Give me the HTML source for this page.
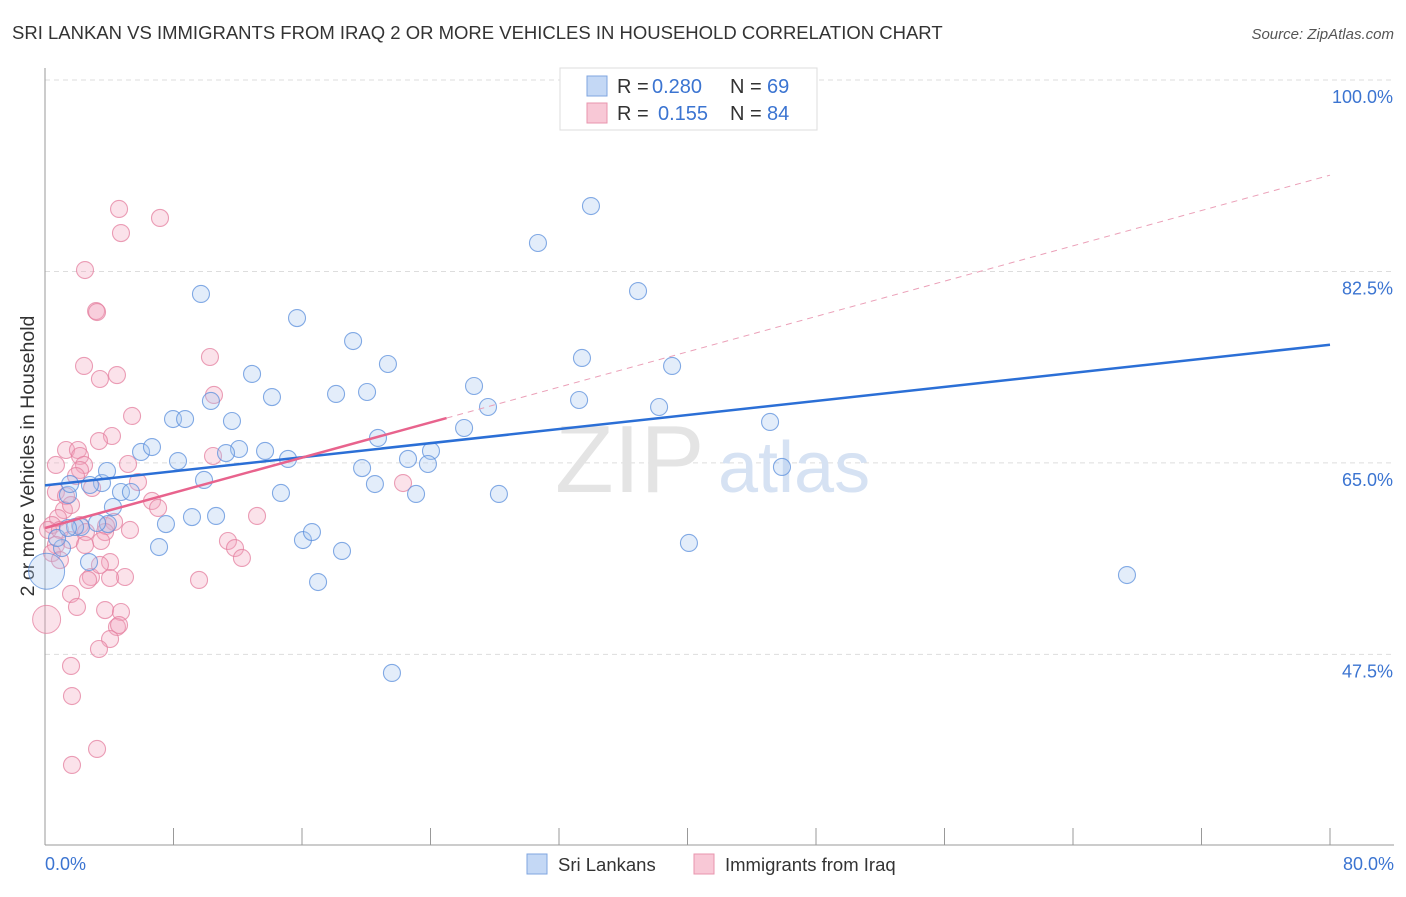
<!DOCTYPE html>
<html><head><meta charset="utf-8"><style>
body{margin:0;background:#fff;font-family:"Liberation Sans",sans-serif}
svg text{font-family:"Liberation Sans",sans-serif}
</style></head><body>
<svg width="1406" height="892" xmlns="http://www.w3.org/2000/svg">
<text x="12" y="39" font-size="18.5" fill="#333">SRI LANKAN VS IMMIGRANTS FROM IRAQ 2 OR MORE VEHICLES IN HOUSEHOLD CORRELATION CHART</text>
<text x="1394" y="39" font-size="15" fill="#555" font-style="italic" text-anchor="end">Source: ZipAtlas.com</text>
<g id="grid"></g>
<line x1="45" y1="68" x2="45" y2="845" stroke="#999"/>
<line x1="45" y1="845" x2="1394" y2="845" stroke="#999"/>
<text x="555" y="492" font-size="96" fill="#e4e4e4" font-family="Liberation Serif">ZIP</text>
<text x="718" y="492" font-size="72" fill="#d6e2f3">atlas</text>
<text transform="translate(34,456) rotate(-90)" font-size="19.5" fill="#333" text-anchor="middle">2 or more Vehicles in Household</text>
<text x="45" y="870" font-size="18" fill="#3b74d1">0.0%</text>
<text x="1394" y="870" font-size="18" fill="#3b74d1" text-anchor="end">80.0%</text>
<g id="pts"></g>
<g id="lines"></g>
<rect x="560" y="68" width="257" height="62" fill="#fff" stroke="#ddd"/>
<rect x="587" y="76" width="20" height="20" fill="#c4d8f5" stroke="#7fa6e0"/>
<rect x="587" y="103" width="20" height="20" fill="#f8c8d6" stroke="#e895ae"/>
<g font-size="20">
<text x="617" y="93" fill="#333">R =</text><text x="652" y="93" fill="#3b74d1">0.280</text><text x="730" y="93" fill="#333">N =</text><text x="767" y="93" fill="#3b74d1">69</text></g>
<g font-size="20">
<text x="617" y="120" fill="#333">R =</text><text x="658" y="120" fill="#3b74d1">0.155</text><text x="730" y="120" fill="#333">N =</text><text x="767" y="120" fill="#3b74d1">84</text></g>
<rect x="527" y="854" width="20" height="20" fill="#c4d8f5" stroke="#7fa6e0"/>
<text x="558" y="871" font-size="18.5" fill="#333">Sri Lankans</text>
<rect x="694" y="854" width="20" height="20" fill="#f8c8d6" stroke="#e895ae"/>
<text x="725" y="871" font-size="18.5" fill="#333">Immigrants from Iraq</text>
</svg>
<script>
const yTicks=[100,82.5,65,47.5];
const yTickLabels=["100.0%","82.5%","65.0%","47.5%"];
const xTicks=[0,8,16,24,32,40,48,56,64,72,80];
const bluePx=[[591,206],[538,243],[638,291],[201,294],[297,318],[353,341],[388,364],[582,358],[672,366],[252,374],[474,386],[336,394],[367,392],[272,397],[211,401],[488,407],[579,400],[659,407],[173,419],[185,419],[232,421],[770,422],[464,428],[378,438],[141,452],[152,447],[239,449],[265,451],[226,453],[178,461],[288,459],[408,459],[431,451],[428,464],[362,468],[782,467],[204,480],[375,484],[102,483],[107,471],[121,492],[131,492],[68,495],[281,493],[416,494],[499,494],[113,507],[192,517],[216,516],[166,524],[81,527],[108,524],[303,540],[312,532],[342,551],[159,547],[689,543],[89,562],[318,582],[1127,575],[392,673],[62,548],[57,538],[75,527],[68,528],[97,523],[70,484],[90,485]];
const pinkPx=[[119,209],[160,218],[121,233],[85,270],[96,311],[97,312],[210,357],[84,366],[117,375],[100,379],[214,395],[132,416],[112,436],[99,441],[66,450],[78,450],[80,456],[213,456],[128,464],[84,465],[80,470],[56,465],[76,476],[138,482],[92,488],[56,492],[66,496],[152,501],[158,508],[257,516],[64,510],[71,505],[58,518],[52,525],[48,530],[60,530],[80,525],[114,522],[106,526],[105,532],[86,532],[70,540],[56,545],[101,541],[228,541],[235,548],[242,558],[52,553],[110,562],[125,577],[91,577],[88,580],[110,578],[100,565],[199,580],[71,594],[77,607],[105,610],[121,612],[117,627],[119,625],[110,639],[99,649],[71,666],[72,696],[97,749],[72,765],[403,483],[85,545],[60,560],[130,530]];
const blueX=bluePx.map(p=>+((p[0]-45)/16.0625).toFixed(2)), blueY=bluePx.map(p=>+(100-(p[1]-80)/10.94).toFixed(2));
const pinkX=pinkPx.map(p=>+((p[0]-45)/16.0625).toFixed(2)), pinkY=pinkPx.map(p=>+(100-(p[1]-80)/10.94).toFixed(2));
const bigBlue=[[0.1,55.1]], bigPink=[[0.1,50.7]];
const blueTrend=[[0,62.95],[80,75.8]], pinkTrend=[[0,59.05],[25,69.1],[80,91.3]];
const X=v=>45+v*16.0625, Y=v=>80+(100-v)*10.94;
const NS="http://www.w3.org/2000/svg";
function mk(t,a,par){const e=document.createElementNS(NS,t);for(const k in a)e.setAttribute(k,a[k]);document.getElementById(par).appendChild(e);return e;}
yTicks.forEach((v,i)=>{
 const l=mk('line',{x1:45,x2:1394,y1:Y(v),y2:Y(v),stroke:'#ddd','stroke-dasharray':'5,4'},'grid');
 
 
 const t=mk('text',{x:1393,y:Y(v)+23,'font-size':18,fill:'#3b74d1','text-anchor':'end'},'grid');t.textContent=yTickLabels[i];
 
 
});
xTicks.forEach(v=>{
 const l=mk('line',{x1:X(v),x2:X(v),y1:828,y2:845,stroke:'#999'},'grid');
 
 
});
function dots(xs,ys,f,s,name){xs.forEach((x,i)=>{const c=mk('circle',{cx:X(x),cy:Y(ys[i]),r:8.5,fill:f,stroke:s,'fill-opacity':0.32,'stroke-opacity':0.75,'stroke-width':1.1},'pts');
 
 });}
dots(pinkX,pinkY,'#f4a6be','#e47f9f','point-iraq');
dots(blueX,blueY,'#a8c6f0','#5b8fdc','point-sri-lankan');
bigBlue.forEach(p=>{const c=mk('circle',{cx:X(p[0]),cy:Y(p[1]),r:18,fill:'#a8c6f0','fill-opacity':0.32,stroke:'#5b8fdc','stroke-opacity':0.75},'pts');
 
 });
bigPink.forEach(p=>{const c=mk('circle',{cx:X(p[0]),cy:Y(p[1]),r:14,fill:'#f4a6be','fill-opacity':0.32,stroke:'#e47f9f','stroke-opacity':0.75},'pts');
 
 });
let l=mk('line',{x1:X(blueTrend[0][0]),y1:Y(blueTrend[0][1]),x2:X(blueTrend[1][0]),y2:Y(blueTrend[1][1]),stroke:'#2b6fd6','stroke-width':2.5},'lines');


l=mk('line',{x1:X(pinkTrend[0][0]),y1:Y(pinkTrend[0][1]),x2:X(pinkTrend[1][0]),y2:Y(pinkTrend[1][1]),stroke:'#e8638d','stroke-width':2.5},'lines');


l=mk('line',{x1:X(pinkTrend[1][0]),y1:Y(pinkTrend[1][1]),x2:X(pinkTrend[2][0]),y2:Y(pinkTrend[2][1]),stroke:'#eba0b8','stroke-width':1,'stroke-dasharray':'6,5'},'lines');


</script>
</body></html>
